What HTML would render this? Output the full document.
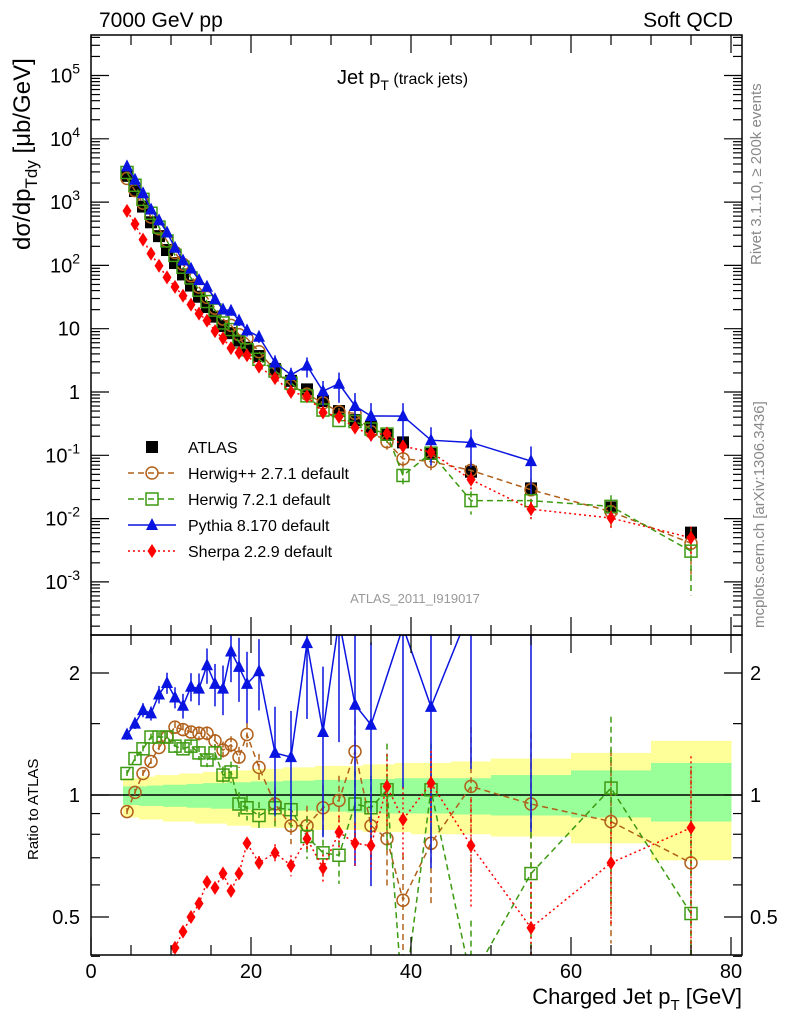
<!DOCTYPE html>
<html><head><meta charset="utf-8">
<style>
html,body{margin:0;background:#fff;width:786px;height:1024px;overflow:hidden;}
svg{display:block;font-family:"Liberation Sans",sans-serif;overflow:hidden;}
</style></head>
<body>
<svg id="chart" width="786" height="1024" viewBox="0 0 786 1024" xmlns="http://www.w3.org/2000/svg">
<defs>
<clipPath id="clipMain"><rect x="91" y="35" width="651" height="600"/></clipPath>
<clipPath id="clipRatio"><rect x="91" y="635" width="651" height="320"/></clipPath>
</defs>
<rect x="0" y="0" width="786" height="1024" fill="#fff"/>
<g id="bands" clip-path="url(#clipRatio)"></g>
<g id="marks"></g>
<rect x="91" y="35" width="651" height="600" fill="none" stroke="#000" stroke-width="1.5"/>
<rect x="91" y="635" width="651" height="320" fill="none" stroke="#000" stroke-width="1.5"/>
<g id="axes"></g>
<text x="99" y="27" font-size="21">7000 GeV pp</text>
<text x="733" y="27" font-size="21" text-anchor="end">Soft QCD</text>
<text x="337" y="84" font-size="20">Jet p<tspan dy="6" font-size="14">T</tspan><tspan dy="-6" font-size="16"> (track jets)</tspan></text>
<text transform="translate(30,250) rotate(-90)" font-size="24" text-anchor="start">dσ/dp<tspan dy="7" font-size="17">Tdy</tspan><tspan dy="-7"> [μb/GeV]</tspan></text>
<text transform="translate(38,860) rotate(-90)" font-size="15">Ratio to ATLAS</text>
<text transform="translate(761,265) rotate(-90)" font-size="15" fill="#888">Rivet 3.1.10, ≥ 200k events</text>
<text transform="translate(764,628) rotate(-90)" font-size="15" fill="#888">mcplots.cern.ch [arXiv:1306.3436]</text>
<text x="415" y="603" font-size="13" fill="#999" text-anchor="middle">ATLAS_2011_I919017</text>
<text x="742" y="1004" font-size="22" text-anchor="end">Charged Jet p<tspan dy="6" font-size="15">T</tspan><tspan dy="-6"> [GeV]</tspan></text>
<g id="legend"></g>
</svg>
<script>
const binCenters=[4.5,5.5,6.5,7.5,8.5,9.5,10.5,11.5,12.5,13.5,14.5,15.5,16.5,17.5,18.5,19.5,21,23,25,27,29,31,33,35,37,39,42.5,47.5,55,65,75];
const binEdges=[4,5,6,7,8,9,10,11,12,13,14,15,16,17,18,19,20,22,24,26,28,30,32,34,36,38,40,45,50,60,70,80];
const atlasValues=[2600,1500,850,480,290,175,109,72,48,32,22,15.5,11,8.5,6.5,5.0,3.7,2.3,1.5,1.1,0.72,0.5,0.36,0.28,0.21,0.16,0.105,0.055,0.03,0.015,0.006];
const greenHi=[1.05,1.05,1.05,1.055,1.055,1.06,1.06,1.06,1.065,1.065,1.07,1.07,1.07,1.075,1.075,1.075,1.08,1.08,1.085,1.085,1.09,1.09,1.09,1.095,1.095,1.1,1.1,1.1,1.12,1.15,1.2];
const greenLo=[0.945,0.945,0.94,0.94,0.94,0.935,0.935,0.935,0.93,0.93,0.93,0.925,0.925,0.925,0.92,0.92,0.92,0.915,0.915,0.915,0.91,0.91,0.905,0.905,0.9,0.9,0.9,0.895,0.89,0.88,0.86];
const yellowHi=[1.10,1.10,1.11,1.11,1.12,1.12,1.12,1.13,1.13,1.13,1.14,1.14,1.14,1.15,1.15,1.15,1.16,1.16,1.17,1.17,1.18,1.18,1.18,1.19,1.19,1.2,1.2,1.21,1.23,1.27,1.36];
const yellowLo=[0.88,0.88,0.87,0.87,0.87,0.86,0.86,0.86,0.86,0.85,0.85,0.85,0.85,0.84,0.84,0.84,0.83,0.83,0.83,0.82,0.82,0.82,0.82,0.81,0.81,0.81,0.8,0.8,0.79,0.76,0.69];
const herwigppRatio=[0.91,1.015,1.13,1.21,1.31,1.39,1.47,1.45,1.43,1.42,1.42,1.36,1.29,1.33,1.24,1.41,1.17,0.95,0.84,0.84,0.93,0.97,1.28,0.84,0.78,0.55,0.76,1.05,0.95,0.86,0.68];
const herwig7Ratio=[1.13,1.23,1.30,1.39,1.39,1.39,1.32,1.30,1.32,1.27,1.22,1.27,1.12,1.14,0.95,0.93,0.89,0.93,0.92,0.79,0.72,0.71,0.95,0.93,1.03,0.3,1.03,0.35,0.64,1.04,0.51];
const pythiaRatio=[1.41,1.50,1.62,1.59,1.77,1.89,1.74,1.66,1.85,1.83,2.09,1.88,1.83,2.26,2.07,1.88,2.02,1.27,1.24,2.37,1.43,2.7,1.67,1.49,null,2.6,1.65,2.9,2.7,null,null];
const sherpaRatio=[0.28,0.30,0.30,0.32,0.34,0.37,0.42,0.46,0.50,0.54,0.61,0.59,0.64,0.58,0.64,0.76,0.68,0.72,0.67,0.78,0.66,0.81,0.76,0.75,1.05,0.87,1.07,0.75,0.47,0.68,0.83];
const herwigppErr=[0.02,0.02,0.02,0.02,0.02,0.03,0.03,0.03,0.03,0.04,0.04,0.04,0.05,0.05,0.06,0.07,0.08,0.1,0.1,0.12,0.14,0.15,0.2,0.2,0.25,0.3,0.3,0.4,0.5,0.5,0.7];
const herwig7Err=[0.02,0.02,0.02,0.02,0.03,0.03,0.03,0.03,0.04,0.04,0.04,0.05,0.05,0.06,0.07,0.07,0.08,0.1,0.1,0.12,0.14,0.15,0.2,0.2,0.3,0.3,0.3,0.4,0.5,0.5,0.8];
const pythiaErr=[0.03,0.03,0.04,0.04,0.05,0.06,0.06,0.07,0.08,0.09,0.1,0.12,0.14,0.16,0.18,0.2,0.2,0.3,0.3,0.35,0.45,0.5,0.6,0.6,0.6,0.6,0.6,0.6,0.7,0.7,0.7];
const sherpaErr=[0.01,0.01,0.01,0.01,0.01,0.01,0.01,0.01,0.01,0.02,0.02,0.02,0.02,0.03,0.03,0.03,0.04,0.05,0.06,0.07,0.08,0.1,0.12,0.14,0.2,0.2,0.2,0.3,0.3,0.3,0.5];
const xTickMajor=[0,20,40,60,80];
const yMainExp=[5,4,3,2,1,0,-1,-2,-3];
const ratioTickLabels=[2,1,0.5];

const NS='http://www.w3.org/2000/svg';
function mk(parent,tag,attrs){const e=document.createElementNS(NS,tag);for(const k in attrs)e.setAttribute(k,attrs[k]);parent.appendChild(e);return e;}
const X=v=>91+8*v;
const YM=v=>392-63.3*Math.log10(v);
const YR=r=>795-405.3*Math.log10(r);
const cl=(y,a,b)=>Math.min(Math.max(y,a),b);
const bands=document.getElementById('bands');
const marks=document.getElementById('marks');
const axes=document.getElementById('axes');

for(let i=0;i<binCenters.length;i++){
  const x0=X(binEdges[i]),x1=X(binEdges[i+1]);
  const y=mk(bands,'rect',{x:x0,y:YR(yellowHi[i]),width:x1-x0+0.5,height:YR(yellowLo[i])-YR(yellowHi[i]),fill:'#ffff99'});
  
  
  const g=mk(bands,'rect',{x:x0,y:YR(greenHi[i]),width:x1-x0+0.5,height:YR(greenLo[i])-YR(greenHi[i]),fill:'#99ff99'});
  
  
}
const one=mk(marks,'line',{x1:91,x2:742,y1:YR(1),y2:YR(1),stroke:'#000','stroke-width':1.5});



function marker(g,type,cx,cy,color){
  let e;
  if(type==='square') e=mk(g,'rect',{x:cx-6,y:cy-6,width:12,height:12,fill:'#000'});
  else if(type==='osquare') e=mk(g,'rect',{x:cx-6,y:cy-6,width:12,height:12,fill:'none',stroke:color,'stroke-width':1.5});
  else if(type==='circle') e=mk(g,'circle',{cx:cx,cy:cy,r:6,fill:'none',stroke:color,'stroke-width':1.5});
  else if(type==='tri') e=mk(g,'polygon',{points:`${cx},${cy-7} ${cx-6},${cy+5} ${cx+6},${cy+5}`,fill:color});
  else e=mk(g,'polygon',{points:`${cx},${cy-7} ${cx-4.5},${cy} ${cx},${cy+7} ${cx+4.5},${cy}`,fill:color});
  return e;
}

const series=[
 {name:'herwigpp',ratio:herwigppRatio,err:herwigppErr,color:'#b0601a',dash:'6,4',mk:'circle',label:'Herwig++ 2.7.1 default'},
 {name:'herwig7',ratio:herwig7Ratio,err:herwig7Err,color:'#3c9a10',dash:'6,4',mk:'osquare',label:'Herwig 7.2.1 default'},
 {name:'pythia',ratio:pythiaRatio,err:pythiaErr,color:'#0a14e0',dash:'none',mk:'tri',label:'Pythia 8.170 default'},
 {name:'sherpa',ratio:sherpaRatio,err:sherpaErr,color:'#ff0000',dash:'2,3',mk:'diamond',label:'Sherpa 2.2.9 default'}
];

const gA=mk(marks,'g',{'clip-path':'url(#clipMain)'});



series.forEach(s=>{
  const gm=mk(marks,'g',{'clip-path':'url(#clipMain)'});
  
  
  const gr=mk(marks,'g',{'clip-path':'url(#clipRatio)'});
  
  
  let pm=[],pr=[];
  binCenters.forEach((c,i)=>{
    const r=s.ratio[i]; if(r==null) return;
    const v=atlasValues[i]*r;
    pm.push(X(c)+','+YM(v)); pr.push(X(c)+','+YR(r));
  });
  const lm=mk(gm,'polyline',{points:pm.join(' '),fill:'none',stroke:s.color,'stroke-width':1.5,'stroke-dasharray':s.dash});
  
  
  const lr=mk(gr,'polyline',{points:pr.join(' '),fill:'none',stroke:s.color,'stroke-width':1.5,'stroke-dasharray':s.dash});
  
  
  binCenters.forEach((c,i)=>{
    const r=s.ratio[i]; if(r==null) return;
    const v=atlasValues[i]*r, e=s.err[i];
    const eb=mk(gr,'line',{x1:X(c),x2:X(c),y1:cl(YR(r*(1+e)),630,960),y2:cl(YR(Math.max(r*(1-e),0.01)),630,960),stroke:s.color,'stroke-width':1.5,'stroke-dasharray':s.dash});
    
    
    if(e>0.1){
      const em=mk(gm,'line',{x1:X(c),x2:X(c),y1:cl(YM(v*(1+e)),30,640),y2:cl(YM(Math.max(v*(1-e),1e-6)),30,640),stroke:s.color,'stroke-width':1.5,'stroke-dasharray':s.dash});
      
      
    }
    const m1=marker(gm,s.mk,X(c),YM(v),s.color);
    
    
    const m2=marker(gr,s.mk,X(c),cl(YR(r),600,990),s.color);
    
    
  });
});
binCenters.forEach((c,i)=>{
  const m=marker(gA,'square',X(c),YM(atlasValues[i]),'#000');
  
  
});

function tick(x1,y1,x2,y2,name){const t=mk(axes,'line',{x1:x1,y1:y1,x2:x2,y2:y2,stroke:'#000','stroke-width':1.2});}
for(let v=0;v<=80;v+=5){
  const big=v%20===0, L=big?18:10, x=X(v);
  tick(x,955,x,955-L,'x-tick');
  tick(x,635,x,635+L,'x-tick');
  tick(x,635,x,635-L,'x-tick');
  tick(x,35,x,35+L,'x-tick');
}
xTickMajor.forEach(v=>{
  const t=mk(axes,'text',{x:X(v),y:978,'font-size':20,'text-anchor':'middle'});
  t.textContent=v;
  
  
});
for(let e=-4;e<=5;e++){
  for(let k=1;k<10;k++){
    const y=YM(k*Math.pow(10,e)); if(y<35||y>635) continue;
    const L=k===1?18:9;
    tick(91,y,91+L,y,'y-tick');
    tick(742,y,742-L,y,'y-tick');
  }
}
yMainExp.forEach(e=>{
  const t=mk(axes,'text',{x:80,y:YM(Math.pow(10,e))+7,'font-size':20,'text-anchor':'end'});
  if(e===1) t.textContent='10';
  else if(e===0) t.textContent='1';
  else { t.textContent='10'; const s=mk(t,'tspan',{dy:-9,'font-size':14}); s.textContent=e; }
  
  
});
[0.4,0.5,0.6,0.7,0.8,0.9,1,1.5,2].forEach(r=>{
  const L=(r===0.5||r===1||r===2)?18:9, y=YR(r);
  tick(91,y,91+L,y,'ratio-y-tick');
  tick(742,y,742-L,y,'ratio-y-tick');
});
ratioTickLabels.forEach(r=>{
  const t=mk(axes,'text',{x:80,y:YR(r)+7,'font-size':20,'text-anchor':'end'});
  t.textContent=r;
  
  
  const t2=mk(axes,'text',{x:750,y:YR(r)+7,'font-size':20});
  t2.textContent=r;
  
  
});

const leg=document.getElementById('legend');
const la=marker(leg,'square',152,447,'#000');


const lat=mk(leg,'text',{x:188,y:453,'font-size':16});
lat.textContent='ATLAS';


series.forEach((s,i)=>{
  const y=473+26*i;
  const l=mk(leg,'line',{x1:128,x2:176,y1:y,y2:y,stroke:s.color,'stroke-width':1.5,'stroke-dasharray':s.dash});
  
  
  const m=marker(leg,s.mk,152,y,s.color);
  
  
  const t=mk(leg,'text',{x:188,y:y+6,'font-size':16});
  t.textContent=s.label;
  
  
});
</script>
</body></html>
